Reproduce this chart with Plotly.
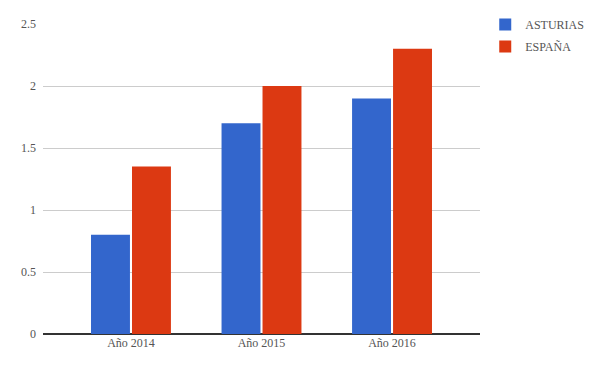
import plotly.graph_objects as go

categories = ["Año 2014", "Año 2015", "Año 2016"]
asturias = [0.8, 1.7, 1.9]
espana = [1.35, 2.0, 2.3]
y_ticks = [0, 0.5, 1, 1.5, 2, 2.5]
y_tick_labels = ["0", "0.5", "1", "1.5", "2", "2.5"]

FONT = "Liberation Serif, Times New Roman, serif"
TXT = "#555555"

fig = go.Figure()
fig.add_trace(go.Bar(name="ASTURIAS", x=categories, y=asturias, marker_color="#3366CC",
                     marker_line_width=0, legendgroup="a"))
fig.add_trace(go.Bar(name="ESPAÑA", x=categories, y=espana, marker_color="#DC3912",
                     marker_line_width=0, legendgroup="b"))

fig.update_layout(
    width=600, height=371,
    margin=dict(l=43, r=120, t=24, b=37, pad=0, autoexpand=False),
    paper_bgcolor="white", plot_bgcolor="white",
    barmode="group", bargap=0.372, bargroupgap=0.05,
    font=dict(family=FONT, size=12, color=TXT),
    showlegend=True,
    legend=dict(x=1.012, xanchor="left", y=1.045, yanchor="top",
                font=dict(family=FONT, size=12, color=TXT),
                traceorder="grouped", tracegroupgap=3,
                bgcolor="rgba(0,0,0,0)", itemclick=False),
    xaxis=dict(type="category", range=[-0.674, 2.674], showgrid=False,
               showline=False, ticks="", tickfont=dict(size=12, color=TXT),
               zeroline=False, automargin=False),
    yaxis=dict(range=[0, 2.5], tickvals=y_ticks, ticktext=y_tick_labels,
               showgrid=True, gridcolor="#cccccc", gridwidth=1,
               zeroline=True, zerolinecolor="#333333", zerolinewidth=1.5,
               showline=False, ticks="", ticklabelstandoff=6, automargin=False,
               tickfont=dict(size=12, color=TXT)),
)

fig.write_html("out.html", config={"displayModeBar": False},
               post_script="document.body.style.margin='0';")
